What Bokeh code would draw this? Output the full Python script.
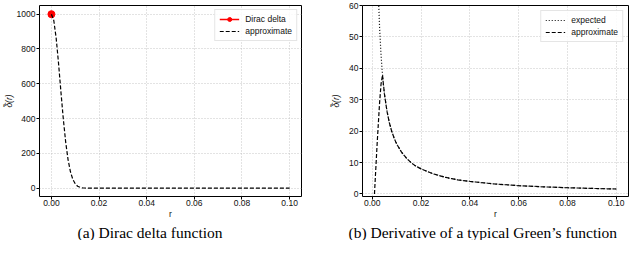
from bokeh.plotting import figure
from bokeh.layouts import row
from bokeh.models import FixedTicker, NumeralTickFormatter, Title, Range1d
from bokeh.embed import file_html
from bokeh.resources import INLINE

# ---------------- data ----------------
x_ticks = [0.0, 0.02, 0.04, 0.06, 0.08, 0.10]
y_ticks_a = [0, 200, 400, 600, 800, 1000]
y_ticks_b = [0, 10, 20, 30, 40, 50, 60]

# (a) Dirac delta
r_delta = [0.0]
v_delta = [1000]
r_approx_a = [0.0, 0.001, 0.002, 0.003, 0.004, 0.005, 0.006, 0.007, 0.008, 0.009,
              0.010, 0.011, 0.012, 0.013, 0.014, 0.015, 0.02, 0.04, 0.06, 0.08, 0.10]
v_approx_a = [1000, 964, 862, 717, 553, 397, 264, 163, 94, 50,
              25, 11, 5, 2, 1, 0, 0, 0, 0, 0, 0]

# (b) derivative of a Green's function
r_expected = [0.0025, 0.003, 0.0035, 0.004, 0.0045, 0.005, 0.006, 0.007, 0.008, 0.009,
              0.010, 0.012, 0.014, 0.016, 0.018, 0.020, 0.025, 0.030, 0.035, 0.040,
              0.050, 0.060, 0.070, 0.080, 0.090, 0.100]
v_expected = [63.7, 53.1, 45.5, 39.8, 35.4, 31.8, 26.5, 22.7, 19.9, 17.7,
              15.9, 13.3, 11.4, 9.9, 8.8, 8.0, 6.4, 5.3, 4.5, 4.0,
              3.2, 2.65, 2.27, 1.99, 1.77, 1.59]
r_approx_b = [0.0009, 0.002, 0.003, 0.0036, 0.0042, 0.0045, 0.005, 0.006, 0.007, 0.008, 0.009,
              0.010, 0.012, 0.014, 0.016, 0.018, 0.020, 0.025, 0.030, 0.035, 0.040,
              0.050, 0.060, 0.070, 0.080, 0.090, 0.100]
v_approx_b = [0.0, 16.0, 29.0, 35.0, 37.9, 35.4, 31.8, 26.5, 22.7, 19.9, 17.7,
              15.9, 13.3, 11.4, 9.9, 8.8, 8.0, 6.4, 5.3, 4.5, 4.0,
              3.2, 2.65, 2.27, 1.99, 1.77, 1.59]

caption_a = "(a) Dirac delta function"
caption_b = "(b) Derivative of a typical Green\u2019s function"
ylabel = "\u03b4\u0303(r)"

SANS = "Liberation Sans"
SERIF = "Liberation Serif"
TICK_FS = "8.5px"


def make_fig(frame_w, xr, yr, yticks, min_left, min_right, min_top, label_standoff):
    p = figure(frame_width=frame_w, height=240, x_range=Range1d(*xr), y_range=Range1d(*yr),
               output_backend="svg", toolbar_location=None,
               min_border_left=min_left, min_border_right=min_right,
               min_border_top=min_top, min_border_bottom=0)
    p.background_fill_color = "white"
    p.border_fill_color = "white"
    p.outline_line_color = "black"
    p.outline_line_width = 1
    p.outline_line_alpha = 1
    p.xaxis.ticker = FixedTicker(ticks=x_ticks)
    p.xaxis.formatter = NumeralTickFormatter(format="0.00")
    p.yaxis.ticker = FixedTicker(ticks=yticks)
    p.xaxis.axis_label = "r"
    p.yaxis.axis_label = ylabel
    p.yaxis.axis_label_standoff = label_standoff
    p.xaxis.axis_label_standoff = 0
    for ax in p.axis:
        ax.axis_line_color = None
        ax.major_tick_out = 3
        ax.major_tick_in = 0
        ax.minor_tick_out = 0
        ax.minor_tick_in = 0
        ax.major_tick_line_color = "black"
        ax.major_label_standoff = 1
        ax.major_label_text_font = SANS
        ax.major_label_text_font_size = TICK_FS
        ax.major_label_text_color = "#111111"
        ax.axis_label_text_font = SANS
        ax.axis_label_text_font_size = TICK_FS
        ax.axis_label_text_font_style = "italic"
        ax.axis_label_text_color = "#111111"
    p.xaxis.major_label_standoff = 0
    p.xaxis.axis_label_text_font_style = "normal"
    p.grid.grid_line_color = "#b8b8b8"
    p.grid.grid_line_dash = "1 2"
    p.grid.grid_line_width = 0.8
    return p


def style_legend(p, top_margin):
    lg = p.legend[0]
    lg.location = "top_right"
    lg.label_text_font = SANS
    lg.label_text_font_size = TICK_FS
    lg.label_text_color = "#111111"
    lg.glyph_width = 20
    lg.glyph_height = 10
    lg.label_height = 10
    lg.label_standoff = 6
    lg.spacing = 2
    lg.padding = 4
    lg.margin = top_margin
    lg.border_line_color = "#cccccc"
    lg.border_line_width = 1
    lg.background_fill_alpha = 0.85


# ---------------- (a) ----------------
pa = make_fig(262, (-0.005, 0.105), (-48, 1050), y_ticks_a, 33, 11, 2, 0)
pa.line(r_delta, v_delta, color="red", line_width=1.5, legend_label="Dirac delta")
pa.scatter(r_delta, v_delta, color="red", size=7, legend_label="Dirac delta")
pa.line(r_approx_a, v_approx_a, color="black", line_width=1.2, line_dash="4 2",
        legend_label="approximate")
style_legend(pa, 4)
ta = Title(text=caption_a, align="left", offset=38, standoff=0, text_font=SERIF,
           text_font_size="15.5px", text_font_style="normal", text_color="black",
           text_line_height=1.0)
pa.add_layout(ta, "below")

# ---------------- (b) ----------------
pb = make_fig(266, (-0.004, 0.105), (-0.8, 60), y_ticks_b, 50, 2, 5, 5)
pb.line(r_expected, v_expected, color="black", line_width=1.2, line_dash="1 2",
        legend_label="expected")
pb.line(r_approx_b, v_approx_b, color="black", line_width=1.2, line_dash="4 2",
        legend_label="approximate")
style_legend(pb, 5)
tb = Title(text=caption_b, align="left", offset=-14, standoff=0, text_font=SERIF,
           text_font_size="15.5px", text_font_style="normal", text_color="black",
           text_line_height=1.0)
pb.add_layout(tb, "below")

layout = row(pa, pb)
open("out.html", "w").write(file_html(layout, INLINE))
